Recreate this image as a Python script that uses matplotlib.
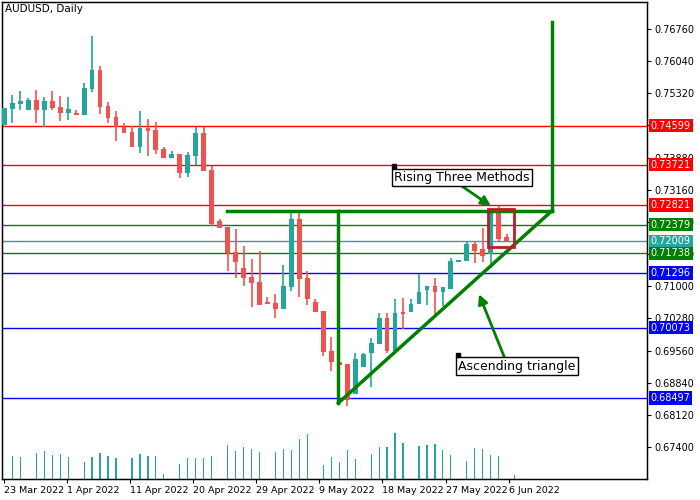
import numpy as np
import matplotlib.pyplot as plt
from matplotlib.patches import Rectangle

# daily candles AUDUSD
opens = [0.74610,0.74969,0.75087,0.74952,0.75170,0.74953,0.75148,0.75013,0.74886,0.74879,
         0.74841,0.75423,0.75842,0.75036,0.74789,0.74566,0.74454,0.74124,0.74543,0.74498,
         0.74073,0.73878,0.73961,0.73542,0.73923,0.74431,0.73603,0.72461,0.72326,0.71767,
         0.71409,0.71207,0.71095,0.70647,0.70625,0.70497,0.70990,0.72506,0.71185,0.70647,
         0.70446,0.69550,0.69304,0.69259,0.68587,0.69192,0.69505,0.69707,0.70289,0.69550,
         0.70423,0.70423,0.70602,0.70916,0.71005,0.70871,0.70938,0.71543,0.71565,0.71946,
         0.71834,0.71722,0.72662,0.72103]
highs = [0.74991,0.75282,0.75372,0.75215,0.75394,0.75237,0.75372,0.75260,0.75237,0.74946,
         0.75551,0.76603,0.75931,0.75125,0.74924,0.74655,0.74588,0.74924,0.74745,0.74677,
         0.74118,0.74028,0.73961,0.74006,0.74566,0.74566,0.73692,0.72506,0.72326,0.72282,
         0.71901,0.71610,0.71789,0.70766,0.70826,0.71476,0.72662,0.72662,0.71341,0.70714,
         0.70446,0.69864,0.69304,0.69259,0.69505,0.69505,0.69841,0.70401,0.70401,0.70714,
         0.70737,0.70714,0.71274,0.71005,0.71185,0.70983,0.71632,0.71588,0.71991,0.72013,
         0.72304,0.72662,0.72797,0.72170]
lows = [0.74610,0.74655,0.74946,0.74952,0.74662,0.74572,0.74953,0.74707,0.74729,0.74841,
        0.74841,0.75356,0.74863,0.74662,0.74259,0.74438,0.74124,0.73990,0.73923,0.73968,
        0.73878,0.73878,0.73430,0.73453,0.73721,0.73587,0.72356,0.72311,0.71348,0.71191,
        0.71012,0.70542,0.70587,0.70609,0.70296,0.70497,0.70900,0.70766,0.70587,0.70430,
        0.69438,0.69102,0.69237,0.68319,0.68587,0.69192,0.68744,0.69707,0.69505,0.69550,
        0.70043,0.70423,0.70602,0.70580,0.70378,0.70558,0.70938,0.71543,0.71565,0.71520,
        0.71543,0.71409,0.72013,0.72013]
closes = [0.74991,0.75103,0.75148,0.75170,0.74953,0.75148,0.74998,0.74886,0.74969,0.74841,
          0.75439,0.75842,0.75020,0.74774,0.74572,0.74438,0.74124,0.74543,0.74483,0.74057,
          0.73878,0.73961,0.73542,0.73939,0.74431,0.73587,0.72400,0.72311,0.71744,0.71543,
          0.71191,0.71079,0.70587,0.70609,0.70497,0.71006,0.72506,0.71169,0.70721,0.70430,
          0.69528,0.69304,0.69237,0.68453,0.69371,0.69483,0.69729,0.70289,0.69550,0.70401,
          0.70378,0.70602,0.70871,0.71005,0.70871,0.70983,0.71565,0.71588,0.71946,0.71789,
          0.71677,0.72662,0.72058,0.72013]
volumes = [0,69,66,0,78,84,72,75,66,0,51,66,78,69,63,0,63,75,69,69,15,0,45,63,63,63,69,0,
           102,84,96,90,81,0,81,90,87,120,135,0,42,66,51,87,60,0,75,96,96,138,108,0,
           99,102,105,87,72,0,54,93,90,72,69,0,12]

date_labels = ["23 Mar 2022","1 Apr 2022","11 Apr 2022","20 Apr 2022","29 Apr 2022",
               "9 May 2022","18 May 2022","27 May 2022","6 Jun 2022"]
y_ticks = [0.67400,0.68120,0.68840,0.69560,0.70280,0.71000,0.71720,0.72440,0.73160,
           0.73880,0.74600,0.75320,0.76040,0.76760]
levels = [0.74599,0.73721,0.72821,0.72379,0.72009,0.71738,0.71296,0.70073,0.68497]
level_colors = ['#ff0000','#ff0000','#ff0000','#008000','#26a69a','#008000','#0000ff','#0000ff','#0000ff']

up_c = '#26a69a'
dn_c = '#ef5350'

fig = plt.figure(figsize=(7, 5), dpi=100)
ax = fig.add_axes([2/700, 21/500, 645/700, 477/500])
ax.set_xlim(-0.3, 80.6)
ax.set_ylim(0.66683, 0.77365)

# volume on twin axis
axv = ax.twinx()
axv.set_ylim(0, 1431)
axv.bar(np.arange(len(volumes)), volumes, width=0.15, color=up_c)
axv.set_yticks([])
axv.set_zorder(0)
ax.set_zorder(1)
ax.patch.set_visible(False)

for lv, lc in zip(levels, level_colors):
    ax.axhline(lv, color=lc, lw=1, zorder=1)

for i in range(len(opens)):
    o, h, l, c = opens[i], highs[i], lows[i], closes[i]
    col = up_c if c >= o else dn_c
    ax.vlines(i, l, h, color=col, lw=1.2, zorder=3)
    ax.add_patch(Rectangle((i - 0.3, min(o, c)), 0.6, max(abs(c - o), 0.00008),
                           color=col, zorder=3, lw=0))

# pattern marks
g = '#008000'
ax.plot([27.9, 68.7], [0.72693, 0.72693], color=g, lw=2.5, zorder=4)
ax.plot([41.9, 41.9], [0.72693, 0.68387], color=g, lw=2.5, zorder=4)
ax.plot([41.9, 68.7], [0.68387, 0.72693], color=g, lw=2.5, zorder=4)
ax.plot([68.7, 68.7], [0.72693, 0.76917], color=g, lw=2.5, zorder=4)
ax.add_patch(Rectangle((60.7, 0.71879), 3.2, 0.00851, fill=False, ec='#b22222', lw=2, zorder=5))
ax.annotate("", xy=(61.3, 0.72760), xytext=(57.0, 0.73289),
            arrowprops=dict(arrowstyle='-|>', color=g, lw=2, mutation_scale=14), zorder=5)
ax.annotate("", xy=(59.4, 0.70879), xytext=(63.0, 0.69281),
            arrowprops=dict(arrowstyle='-|>', color=g, lw=2, mutation_scale=14), zorder=5)
ax.text(48.9, 0.73442, "Rising Three Methods", fontsize=9, va='center', ha='left', zorder=6,
        bbox=dict(fc='white', ec='black', lw=1, pad=1.5))
ax.text(56.9, 0.69213, "Ascending triangle", fontsize=9, va='center', ha='left', zorder=6,
        bbox=dict(fc='white', ec='black', lw=1, pad=1.5))
ax.plot([48.9], [0.73688], 's', color='black', ms=3, zorder=7)
ax.plot([56.9], [0.69460], 's', color='black', ms=3, zorder=7)

ax.text(0.005, 0.995, "AUDUSD, Daily", transform=ax.transAxes, fontsize=7.5, va='top', ha='left')

ax.yaxis.tick_right()
ax.set_yticks(y_ticks)
ax.set_yticklabels([f"{v:.5f}" for v in y_ticks], fontsize=7)
ax.set_xticks(np.arange(len(date_labels)) * 7.92 - 0.1)
ax.set_xticklabels(date_labels, fontsize=6.8, ha='left')
ax.tick_params(length=3, pad=2)
for lv, lc in zip(levels, level_colors):
    ax.text(1.006, lv, f"{lv:.5f}", transform=ax.get_yaxis_transform(), fontsize=7,
            color='white', va='center', ha='left', zorder=10,
            bbox=dict(fc=lc, ec='none', pad=1.2))
for s in ax.spines.values():
    s.set_linewidth(1)

fig.savefig("out.png", dpi=100)
